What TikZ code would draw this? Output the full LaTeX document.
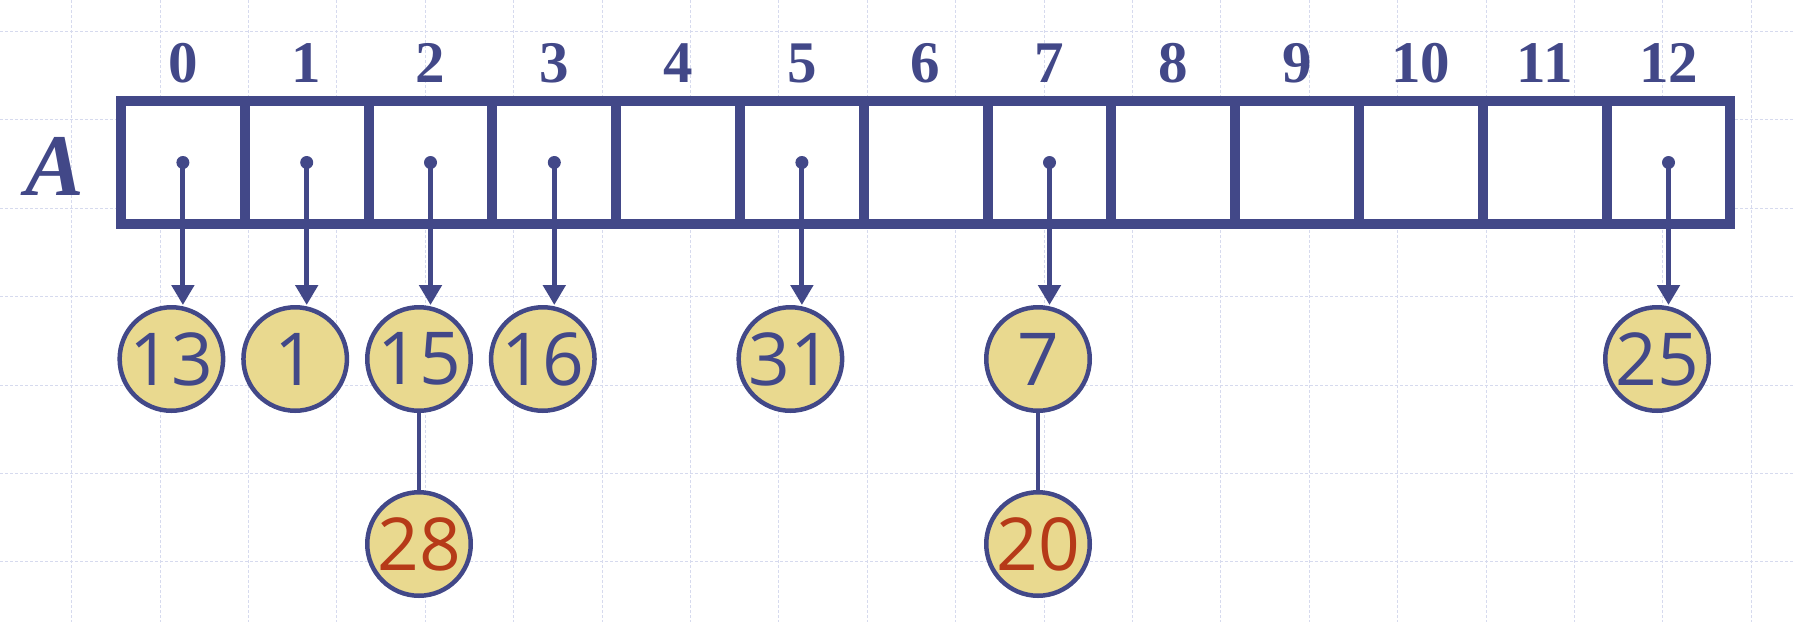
\documentclass[tikz,border=0pt]{standalone}
\usepackage{fontspec}
\setmainfont{Liberation Serif}
\newfontfamily\circfont{Open Sans}
\usetikzlibrary{arrows.meta}
\definecolor{navy}{RGB}{66,72,136}
\definecolor{khaki}{RGB}{233,217,143}
\definecolor{rust}{RGB}{182,58,24}
\definecolor{gridc}{RGB}{214,218,238}
\begin{document}
\begin{tikzpicture}[x=1pt,y=-1pt,
  gridline/.style={gridc, line width=1pt, dash pattern=on 3pt off 2pt},
  cellbox/.style={draw=navy, fill=white, line width=10pt, minimum width=123.8pt, minimum height=123pt, inner sep=0pt, outer sep=0pt},
  idx/.style={text=navy, font=\fontsize{59}{60}\selectfont\bfseries, anchor=base},
  bigA/.style={text=navy, font=\fontsize{88}{88}\selectfont\bfseries\itshape},
  dot/.style={circle, fill=navy, inner sep=0pt, minimum size=13pt},
  keynode/.style={circle, draw=navy, fill=khaki, line width=4.5pt, minimum size=103.5pt, inner sep=0pt, text=navy, font=\circfont\fontsize{73}{73}\selectfont},
  childnode/.style={keynode, text=rust},
  arr/.style={navy, line width=5pt, -{Triangle[length=20pt,width=22pt]}},
  link/.style={navy, line width=4.5pt},
]
\useasboundingbox (0,0) rectangle (1794,622);
\foreach \i in {0,...,19} \draw[gridline] ({71.6+88.4*\i},0) -- ({71.6+88.4*\i},622);
\foreach \j in {0,...,6} \draw[gridline] (0,{31.5+88.4*\j}) -- (1794,{31.5+88.4*\j});
\foreach \i in {0,...,12} {
  \node[cellbox] (c\i) at ({121+123.8*(\i+0.5)},162.5) {};
  \node[idx] (l\i) at ({121+123.8*(\i+0.5)},82) {\i};
}
\node[bigA] (A) at (55,166) {A};
\foreach \i/\k in {0/13,1/1,2/15,3/16,5/31,7/7,12/25} {
  \node[dot] (d\i) at (c\i.center) {};
  \node[keynode] (n\i) at ({121+123.8*(\i+0.5)-11.5},359) {\k};
  \draw[arr] (d\i.center) -- (d\i.center |- n\i.north);
}
\node[childnode] (m2) at ({121+123.8*2.5-11.5},544) {28};
\node[childnode] (m7) at ({121+123.8*7.5-11.5},544) {20};
\draw[link] (n2) -- (m2);
\draw[link] (n7) -- (m7);
\end{tikzpicture}
\end{document}
